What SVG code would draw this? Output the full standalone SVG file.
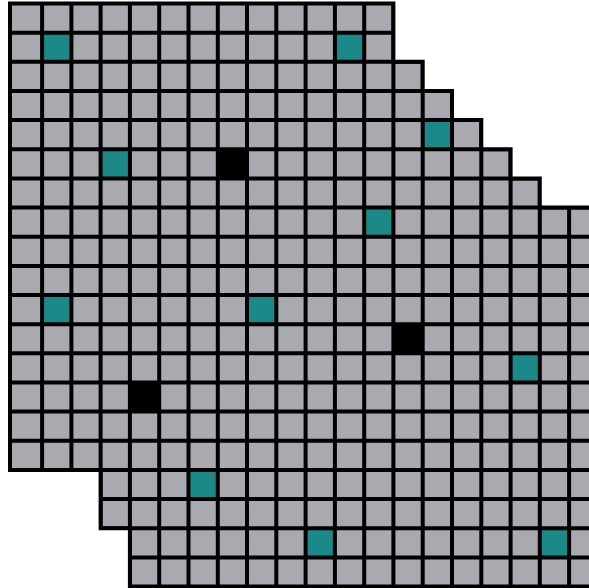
<svg xmlns="http://www.w3.org/2000/svg" width="589" height="588" viewBox="0 0 589 588">
<style>
.bg{fill:#a8aaaf}
.t{fill:#1a8987}
.k{fill:#000}
.grid{stroke:#000;stroke-width:4;fill:none}
.edge{stroke:#000;stroke-width:4;fill:none;stroke-linejoin:miter}
</style>
<defs>
<clipPath id="shape">
<polygon id="outline" points="10,3.5 393.4,3.5 393.4,61.8 422.7,61.8 422.7,91 452,91 452,120.1 481.3,120.1 481.3,149.3 510.6,149.3 510.6,178.4 539.8,178.4 539.8,207.6 598.4,207.6 598.4,586.5 129.9,586.5 129.9,528.2 100.6,528.2 100.6,469.9 10,469.9"/>
</clipPath>
</defs>
<rect width="589" height="588" fill="#fff"/>
<g id="board">
<use href="#outline" class="bg"/>
<g id="teal-cells" class="t">
<rect x="42.1" y="32.7" width="29.3" height="29.1"/>
<rect x="334.9" y="32.7" width="29.3" height="29.1"/>
<rect x="422.7" y="120.1" width="29.3" height="29.2"/>
<rect x="100.6" y="149.3" width="29.3" height="29.1"/>
<rect x="364.2" y="207.6" width="29.2" height="29.1"/>
<rect x="42.1" y="295" width="29.3" height="29.2"/>
<rect x="247" y="295" width="29.3" height="29.2"/>
<rect x="510.6" y="353.3" width="29.2" height="29.2"/>
<rect x="188.5" y="469.9" width="29.3" height="29.2"/>
<rect x="305.6" y="528.2" width="29.3" height="29.2"/>
<rect x="539.8" y="528.2" width="29.3" height="29.2"/>
</g>
<g id="black-cells" class="k">
<rect x="217.8" y="149.3" width="29.2" height="29.1"/>
<rect x="393.4" y="324.2" width="29.3" height="29.1"/>
<rect x="129.9" y="382.5" width="29.3" height="29.1"/>
</g>
<g id="grid-lines" class="grid" clip-path="url(#shape)">
<path d="M42.1,0V588M71.4,0V588M100.6,0V588M129.9,0V588M159.2,0V588M188.5,0V588M217.8,0V588M247,0V588M276.3,0V588M305.6,0V588M334.9,0V588M364.2,0V588M393.4,0V588M422.7,0V588M452,0V588M481.3,0V588M510.6,0V588M539.8,0V588M569.1,0V588"/>
<path d="M0,32.7H600M0,61.8H600M0,91H600M0,120.1H600M0,149.3H600M0,178.4H600M0,207.6H600M0,236.7H600M0,265.9H600M0,295H600M0,324.2H600M0,353.3H600M0,382.5H600M0,411.6H600M0,440.8H600M0,469.9H600M0,499.1H600M0,528.2H600M0,557.4H600"/>
</g>
<use href="#outline" class="edge"/>
</g>
</svg>
